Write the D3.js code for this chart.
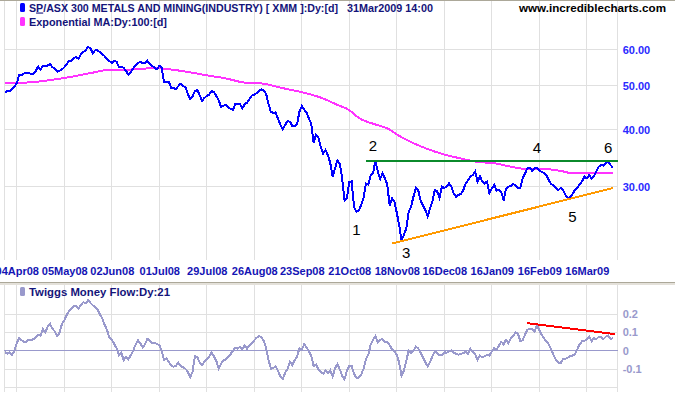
<!DOCTYPE html>
<html>
<head>
<meta charset="utf-8">
<script src="https://cdn.jsdelivr.net/npm/d3@7"></script>
<style>
body { margin: 0; background: #fff; }
svg { display: block; }
text { font-family: "Liberation Sans", Arial, sans-serif; }
</style>
</head>
<body>
<div id="chart"></div>
<script>
// x axis: trading-day index of each labelled grid line
const tickLabels = ["04Apr08", "05May08", "02Jun08", "01Jul08", "29Jul08", "26Aug08", "23Sep08",
  "21Oct08", "18Nov08", "16Dec08", "16Jan09", "16Feb09", "16Mar09"];
const tickDays = [5, 25, 45, 65, 85, 105, 125, 145, 165, 185, 205, 225, 245];
const priceTicks = [30, 40, 50, 60];
const flowTicks = [-0.1, 0, 0.1, 0.2];

// XMM daily close, one value per trading day from day 0
const price = [
  48.5, 48.6, 48.7, 49.2, 49.8, 50.6, 52.8, 52.8, 53.2, 53.4,
  53.4, 53.0, 53.1, 53.9, 55.1, 54.3, 55.2, 55.2, 55.4, 55.8,
  54.9, 54.6, 53.7, 53.9, 54.3, 54.9, 55.8, 56.6, 56.8, 57.5,
  57.8, 57.3, 58.7, 59.3, 59.8, 60.9, 60.4, 59.0, 59.8, 59.8,
  59.3, 58.7, 58.1, 57.1, 56.7, 56.1, 56.8, 56.5, 55.0, 55.1,
  54.7, 53.9, 52.8, 53.6, 54.6, 55.4, 56.0, 56.5, 56.0, 56.0,
  56.7, 55.8, 55.2, 54.9, 54.3, 55.3, 54.9, 51.0, 50.9, 51.0,
  49.5, 49.4, 49.2, 49.9, 50.5, 49.9, 49.7, 48.0, 46.8, 47.4,
  48.6, 48.9, 47.7, 46.3, 47.0, 47.5, 47.8, 48.7, 48.4, 47.5,
  46.5, 44.9, 45.2, 45.4, 44.8, 44.5, 44.2, 45.6, 45.5, 45.5,
  44.6, 45.6, 45.9, 46.8, 47.6, 47.8, 48.2, 48.7, 49.1, 48.8,
  48.0, 45.6, 43.8, 43.6, 43.7, 42.3, 41.0, 40.1, 41.0, 41.8,
  41.7, 40.8, 40.7, 41.1, 43.8, 45.1, 44.3, 43.7, 42.4, 41.2,
  37.4, 39.0, 38.4, 36.7, 35.5, 36.1, 35.2, 33.8, 31.6, 32.9,
  34.3, 33.7, 31.3, 28.0, 28.3, 30.7, 30.8, 27.1, 26.4, 26.6,
  27.3, 28.3, 30.5, 30.3, 31.7, 32.1, 34.2, 32.4, 31.2, 32.1,
  31.3, 30.3, 27.3, 28.3, 27.8, 26.3, 24.7, 22.9, 23.5, 24.3,
  26.4, 27.1, 28.5, 29.8, 29.5, 28.0, 27.3, 26.7, 25.8, 26.9,
  27.8, 29.5, 29.3, 28.3, 30.0, 29.8, 30.0, 30.5, 30.0, 29.0,
  28.5, 28.8, 28.9, 29.5, 30.5, 31.0, 31.6, 31.8, 32.4, 30.8,
  31.6, 30.8, 30.5, 30.8, 29.0, 29.7, 30.3, 29.4, 29.5, 29.2,
  28.0, 29.7, 30.0, 30.1, 30.4, 30.2, 29.8, 29.8, 31.3, 32.1,
  32.9, 33.0, 32.5, 32.9, 33.0, 32.6, 32.3, 32.2, 31.8, 31.0,
  30.4, 30.2, 29.8, 29.5, 29.8, 29.5, 28.8, 28.3, 28.5, 28.9,
  29.5, 29.8, 30.4, 30.8, 31.6, 31.3, 31.8, 31.3, 31.6, 32.4,
  33.2, 33.5, 33.4, 33.8, 34.0, 33.5, 33.0
];

// 100 day exponential MA, [day, value]
const ema = [
  [0, 50.6], [11, 50.9], [26, 52.1], [36, 53.3], [44, 54.2], [54, 54.3], [61, 54.6],
  [65, 54.6], [71, 54.2], [79, 53.4], [86, 52.6], [93, 51.9], [101, 50.8], [108, 50.6],
  [117, 49.4], [125, 48.4], [133, 47.1], [140, 45.4], [145, 44.2], [149, 42.5],
  [156, 41.1], [161, 40.3], [166, 38.8], [172, 37.4], [178, 36.3], [185, 35.3],
  [192, 34.6], [199, 34.0], [206, 33.8], [213, 33.2], [220, 32.8], [227, 32.8],
  [234, 32.5], [239, 32.1], [248, 32.1], [256, 32.2]
];

// Twiggs Money Flow (21 day), one value per trading day
const tmf = [
  -0.008, -0.016, -0.008, -0.024, 0.000, 0.041, 0.071, 0.057, 0.049, 0.049,
  0.060, 0.057, 0.063, 0.071, 0.087, 0.082, 0.117, 0.101, 0.130, 0.147,
  0.120, 0.106, 0.079, 0.098, 0.144, 0.166, 0.193, 0.217, 0.231, 0.242,
  0.242, 0.228, 0.250, 0.264, 0.258, 0.274, 0.261, 0.247, 0.239, 0.223,
  0.198, 0.177, 0.141, 0.114, 0.071, 0.060, 0.038, 0.014, -0.022, -0.008,
  -0.052, -0.034, -0.046, -0.024, 0.000, 0.033, 0.057, 0.041, 0.019, 0.035,
  0.065, 0.054, 0.042, 0.042, 0.038, 0.030, 0.003, -0.049, -0.043, -0.060,
  -0.079, -0.087, -0.082, -0.065, -0.082, -0.090, -0.098, -0.114, -0.144, -0.114,
  -0.030, -0.034, -0.063, -0.079, -0.058, -0.049, -0.031, -0.011, -0.030, -0.054,
  -0.098, -0.071, -0.054, -0.046, -0.033, -0.019, 0.000, 0.015, 0.011, 0.023,
  0.008, 0.030, 0.011, 0.030, 0.041, 0.057, 0.071, 0.079, 0.076, 0.052,
  0.016, -0.049, -0.098, -0.094, -0.084, -0.109, -0.141, -0.155, -0.120, -0.098,
  -0.060, -0.079, -0.052, -0.033, 0.014, 0.005, 0.035, 0.019, -0.005, -0.027,
  -0.084, -0.076, -0.101, -0.114, -0.125, -0.109, -0.120, -0.106, -0.141, -0.094,
  -0.073, -0.101, -0.136, -0.155, -0.109, -0.082, -0.082, -0.125, -0.147, -0.147,
  -0.130, -0.098, -0.046, -0.022, 0.033, 0.060, 0.079, 0.046, 0.060, 0.063,
  0.049, 0.046, 0.030, 0.008, -0.004, -0.022, -0.065, -0.136, -0.109, -0.054,
  0.000, -0.011, 0.000, 0.022, 0.015, -0.011, -0.035, -0.063, -0.084, -0.063,
  -0.030, -0.005, -0.011, -0.024, -0.024, -0.008, -0.011, -0.004, 0.003, -0.011,
  -0.016, -0.022, -0.016, -0.013, -0.005, -0.016, 0.011, -0.005, -0.019, -0.049,
  -0.027, -0.035, -0.030, -0.023, -0.027, -0.003, 0.014, 0.005, 0.027, 0.049,
  0.035, 0.060, 0.040, 0.068, 0.080, 0.099, 0.092, 0.054, 0.057, 0.087,
  0.114, 0.118, 0.116, 0.105, 0.139, 0.114, 0.087, 0.068, 0.051, 0.035,
  0.008, -0.022, -0.049, -0.065, -0.068, -0.046, -0.043, -0.038, -0.028, -0.027,
  -0.018, 0.008, 0.035, 0.051, 0.054, 0.060, 0.078, 0.052, 0.068, 0.063,
  0.076, 0.073, 0.063, 0.076, 0.084, 0.063, 0.069
];

// drawn trendlines and wave labels, [day, value]
const resistance = [[152, 34.2], [258, 34.2]];
const support = [[163, 22.5], [256, 29.8]];
const flowTrend = [[220, 0.15], [257, 0.09]];
const waveLabels = [["1", 148, 24.1], ["2", 155, 36.9], ["3", 169, 21.5],
  ["4", 224, 36.5], ["5", 239, 25.8], ["6", 254, 36.5]];

const W = 675, H = 395;
const plotL = 4.4, plotR = 617.65;
const mainTop = 1, mainBot = 260, lowTop = 285, lowBot = 391.5;

const x = d3.scaleLinear().domain([0, 258]).range([4.9, plotR]);
const y = d3.scaleLog().domain([30, 60]).range([186.7, 49.73]);
const yf = d3.scaleLinear().domain([-0.2, 0.2]).range([387.5, 314]);

const svg = d3.select("#chart").append("svg")
  .attr("width", W).attr("height", H)
  .attr("viewBox", `0 0 ${W} ${H}`);

svg.append("rect").attr("width", W).attr("height", H).attr("fill", "#fff");

// frame lines
svg.append("rect").attr("x", 0).attr("y", 0).attr("width", W).attr("height", 1).attr("fill", "#aca899");
svg.append("rect").attr("x", 0).attr("y", 282).attr("width", W).attr("height", 1).attr("fill", "#aca899");
svg.append("rect").attr("x", 0).attr("y", 283).attr("width", W).attr("height", 2).attr("fill", "#e4e1da");

// grids
const grid = svg.append("g").attr("stroke", "#e0e0e0").attr("stroke-width", 1)
  .attr("shape-rendering", "crispEdges");
for (const d of tickDays) {
  grid.append("line").attr("x1", x(d)).attr("x2", x(d)).attr("y1", mainTop).attr("y2", mainBot);
  grid.append("line").attr("x1", x(d)).attr("x2", x(d)).attr("y1", lowTop).attr("y2", lowBot);
}
for (const xx of [plotL, plotR]) {
  grid.append("line").attr("x1", xx).attr("x2", xx).attr("y1", mainTop).attr("y2", mainBot);
  grid.append("line").attr("x1", xx).attr("x2", xx).attr("y1", lowTop).attr("y2", lowBot);
}
for (const v of priceTicks) {
  grid.append("line").attr("x1", plotL).attr("x2", plotR).attr("y1", y(v)).attr("y2", y(v));
}
for (const v of [-0.2, -0.1, 0.1, 0.2]) {
  grid.append("line").attr("x1", plotL).attr("x2", plotR).attr("y1", yf(v)).attr("y2", yf(v));
}
svg.append("line").attr("x1", plotL).attr("x2", plotR).attr("y1", yf(0)).attr("y2", yf(0))
  .attr("stroke", "#9999cc").attr("stroke-width", 1).attr("shape-rendering", "crispEdges");

// axes
const xAxis = svg.append("g").attr("transform", `translate(0,${mainBot})`)
  .call(d3.axisBottom(x).tickValues(tickDays).tickFormat((d, i) => tickLabels[i]).tickSize(0).tickPadding(7));
xAxis.select(".domain").remove();
xAxis.selectAll("text").attr("font-size", 11).attr("font-weight", "bold").attr("fill", "#1414b4")
  .attr("font-family", "Liberation Sans, Arial, sans-serif");

const yAxis = svg.append("g").attr("transform", `translate(${plotR},0)`)
  .call(d3.axisRight(y).tickValues(priceTicks).tickFormat(d3.format(".2f")).tickSize(0).tickPadding(5));
yAxis.select(".domain").remove();
yAxis.selectAll("text").attr("font-size", 11).attr("font-weight", "bold").attr("fill", "#2a2aff")
  .attr("font-family", "Liberation Sans, Arial, sans-serif");

const fAxis = svg.append("g").attr("transform", `translate(${plotR},0)`)
  .call(d3.axisRight(yf).tickValues(flowTicks).tickFormat(d => d === 0 ? "0" : d.toFixed(1)).tickSize(0).tickPadding(5));
fAxis.select(".domain").remove();
fAxis.selectAll("text").attr("font-size", 11).attr("font-weight", "bold").attr("fill", "#9999cc")
  .attr("font-family", "Liberation Sans, Arial, sans-serif");

// series
const line = (sy) => d3.line().x(d => x(d[0])).y(d => sy(d[1]));
const jag = { "fill": "none", "stroke-width": 2, "stroke-linejoin": "miter", "shape-rendering": "crispEdges" };
function path(data, sy, color, curve) {
  const gen = line(sy);
  if (curve) gen.curve(curve);
  const p = svg.append("path").datum(data).attr("d", gen).attr("stroke", color);
  for (const k in jag) p.attr(k, jag[k]);
  return p;
}

path(ema, y, "#ff33ff", d3.curveMonotoneX);
path(price.map((v, i) => [i, v]), y, "#0000ff");
path(resistance, y, "#0b8a2b");
path(support, y, "#ff9900");
path(tmf.map((v, i) => [i, v]), yf, "#9999cc");
path(flowTrend, yf, "#ff0000");

// wave labels
svg.append("g").selectAll("text").data(waveLabels).join("text")
  .attr("x", d => x(d[1])).attr("y", d => y(d[2]) + 5.5)
  .attr("text-anchor", "middle").attr("font-size", 15)
  .attr("font-family", "DejaVu Sans, sans-serif").attr("fill", "#000")
  .text(d => d[0]);

// legends
function legend(yTop, color, txt, width, base) {
  svg.append("rect").attr("x", 20).attr("y", yTop).attr("width", 5).attr("height", 9)
    .attr("rx", 1.5).attr("fill", color);
  return svg.append("text").attr("x", 29).attr("y", base).attr("font-size", 11)
    .attr("font-weight", "bold").attr("fill", "#14147a")
    .attr("textLength", width).attr("lengthAdjust", "spacingAndGlyphs").text(txt);
}
const t1 = legend(3, "#0000ff", "", 309, 11.5);
t1.append("tspan").text("S");
t1.append("tspan").attr("text-decoration", "underline").text("P");
t1.append("tspan").text("/ASX 300 METALS AND MINING(INDUSTRY) [ XMM ]:Dy:[d]");
legend(17, "#ff33ff", "Exponential MA:Dy:100:[d]", 138, 25.5);
legend(287, "#9999cc", "Twiggs Money Flow:Dy:21", 141, 295.5);

svg.append("text").attr("x", 347).attr("y", 11.5).attr("font-size", 11).attr("font-weight", "bold")
  .attr("fill", "#14147a").attr("textLength", 86).attr("lengthAdjust", "spacingAndGlyphs")
  .text("31Mar2009 14:00");
svg.append("text").attr("x", 519).attr("y", 11.5).attr("font-size", 11).attr("font-weight", "bold")
  .attr("fill", "#000").attr("textLength", 147).attr("lengthAdjust", "spacingAndGlyphs")
  .text("www.incrediblecharts.com");
</script>
</body>
</html>
